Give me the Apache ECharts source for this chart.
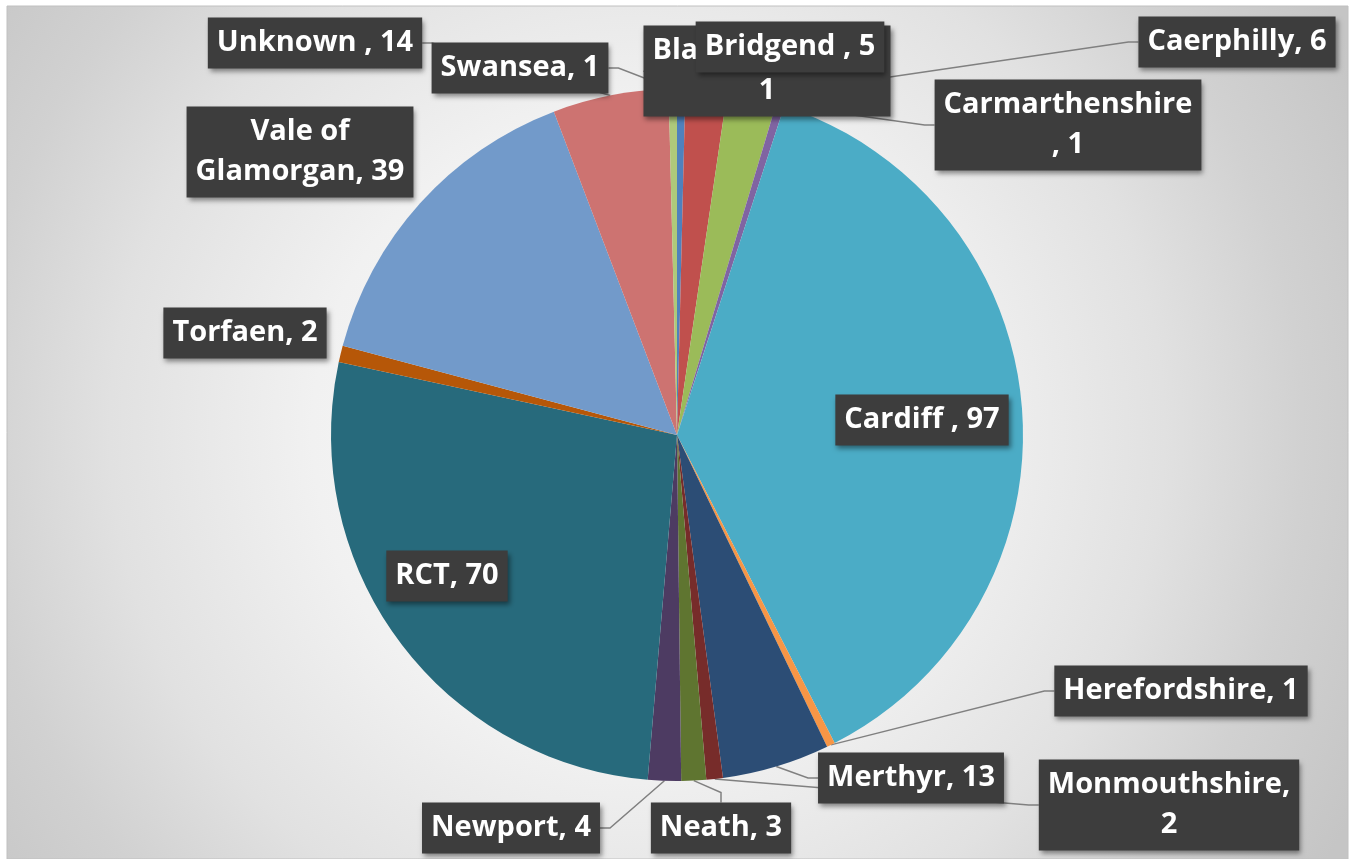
<!DOCTYPE html>
<html>
<head>
<meta charset="utf-8">
<script src="https://cdn.jsdelivr.net/npm/echarts@6/dist/echarts.min.js"></script>
<style>
  html, body { margin: 0; padding: 0; background: #ffffff; }
  #chart { width: 1355px; height: 859px; }
</style>
</head>
<body>
<div id="chart"></div>
<script>
// areas, as they stand in the sheet (some names carry a trailing space)
const areas = [
  'Blaenau Gwent', 'Bridgend ', 'Caerphilly', 'Carmarthenshire ', 'Cardiff ',
  'Herefordshire', 'Merthyr', 'Monmouthshire', 'Neath', 'Newport',
  'RCT', 'Torfaen', 'Vale of Glamorgan', 'Unknown ', 'Swansea'
];
const counts = [1, 5, 6, 1, 97, 1, 13, 2, 3, 4, 70, 2, 39, 14, 1];

// office 2010 palette
const colors = [
  '#4F81BD', '#C0504D', '#9BBB59', '#8064A2', '#4BACC6',
  '#F79646', '#2C4D75', '#772C2A', '#5F7530', '#4D3B62',
  '#276A7C', '#B65708', '#729ACA', '#CD7371', '#AFC97A'
];

// where each label box sits (centre, px) - kept apart from the data
const labelPos = [
  [767, 71], [790, 47], [1237, 42], [1068, 125], [922, 420],
  [1181, 691], [911, 778], [1169, 805], [721, 828], [511, 828],
  [447, 576], [245, 333], [300, 152], [315, 43], [520, 68]
];
// labels without a leader line
const noLine = [4, 10, 11, 12];

function labelText(i) {
  let name = areas[i];
  let val = counts[i];
  if (i === 0 || i === 7) return name + ',\n' + val;
  if (i === 3) return name.trim() + '\n, ' + val;
  if (i === 12) return 'Vale of\nGlamorgan, ' + val;
  return name + ', ' + val;
}

const chart = echarts.init(document.getElementById('chart'), null, { renderer: 'canvas' });

let seriesData = areas.map((name, i) => ({
  name: name,
  value: counts[i],
  itemStyle: { color: colors[i] },
  labelLine: { show: noLine.indexOf(i) < 0 }
}));

const option = {
  animation: false,
  graphic: [{
    type: 'rect',
    z: -10,
    shape: { x: 7, y: 6, width: 1341, height: 853 },
    style: {
      fill: {
        type: 'radial', x: 0.47, y: 0.5, r: 0.95,
        colorStops: [
          { offset: 0, color: '#fdfdfd' },
          { offset: 0.4, color: '#f1f1f1' },
          { offset: 0.65, color: '#e1e1e1' },
          { offset: 0.82, color: '#d1d1d1' },
          { offset: 1, color: '#c5c5c5' }
        ]
      },
      stroke: '#c0c0c0',
      lineWidth: 1
    }
  }],
  series: [{
    type: 'pie',
    center: [677, 435],
    radius: 346,
    startAngle: 90,
    clockwise: true,
    avoidLabelOverlap: false,
    data: seriesData,
    itemStyle: { borderWidth: 0 },
    label: {
      show: true,
      position: 'outside',
      formatter: p => labelText(p.dataIndex),
      color: '#ffffff',
      fontFamily: 'Open Sans',
      fontWeight: 'bold',
      fontSize: 29,
      lineHeight: 40,
      align: 'center',
      backgroundColor: '#3d3d3d',
      padding: [6, 9, 5, 9],
      shadowColor: 'rgba(0,0,0,0.45)',
      shadowBlur: 5,
      shadowOffsetX: 2,
      shadowOffsetY: 3
    },
    labelLine: {
      show: true,
      length: 10,
      length2: 10,
      smooth: false,
      lineStyle: { color: '#808080', width: 1.5 }
    },
    labelLayout: function (params) {
      let pos = labelPos[params.dataIndex];
      return {
        x: pos[0],
        y: pos[1],
        align: 'center',
        verticalAlign: 'middle'
      };
    }
  }]
};

chart.setOption(option);
</script>
</body>
</html>
